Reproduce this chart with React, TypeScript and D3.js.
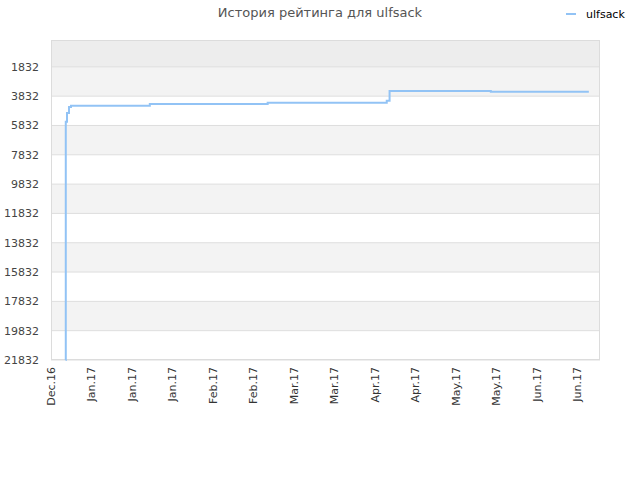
import * as d3 from 'd3'

// tick labels along the bottom (one every ~2 weeks)
const xTickLabels = ['Dec.16', 'Jan.17', 'Jan.17', 'Jan.17', 'Feb.17', 'Feb.17', 'Mar.17', 'Mar.17', 'Apr.17', 'Apr.17', 'May.17', 'May.17', 'Jun.17', 'Jun.17']
const yTicks = [1832, 3832, 5832, 7832, 9832, 11832, 13832, 15832, 17832, 19832, 21832]

// rating history, position measured in tick intervals from the first label
const historyPos = [0.36, 0.365, 0.395, 0.444, 0.494, 2.44, 5.35, 8.29, 8.36, 10.86, 13.28]
const historyRating = [21832, 5574, 4980, 4571, 4482, 4366, 4278, 4141, 3479, 3527, 3527]

const W = 640
const H = 480
const margin = { top: 40, right: 40, bottom: 120, left: 51 }
const font = '"DejaVu Sans", sans-serif'

export default function App() {
  const innerW = W - margin.left - margin.right
  const innerH = H - margin.top - margin.bottom

  const x = d3.scaleLinear().domain([0, innerW / 40.5]).range([0, innerW])
  const y = d3.scaleLinear().domain([0, 21832]).range([0, innerH])

  const points = historyPos.map((p, i) => [p, historyRating[i]] as [number, number])
  const line = d3
    .line<[number, number]>()
    .x((d) => x(d[0]))
    .y((d) => y(d[1]))
    .curve(d3.curveStepAfter)

  // alternating background bands between ticks
  const bands = yTicks.slice(0, -1).map((t, i) => ({ from: t, to: yTicks[i + 1], fill: i % 2 === 0 ? '#f3f3f3' : '#ffffff' }))

  return (
    <svg width={W} height={H} style={{ position: 'absolute', left: 0, top: 0 }}>
      <rect width={W} height={H} fill="#fff" />
      <text x={320} y={17} textAnchor="middle" fontFamily={font} fontSize={13} fill="#555">
        История рейтинга для ulfsack
      </text>
      <g transform="translate(566,14)">
        <line x1={0} x2={10} y1={0} y2={0} stroke="#92c3f5" strokeWidth={2} />
        <text x={20} y={4} fontFamily={font} fontSize={11} fill="#000">ulfsack</text>
      </g>
      <g transform={`translate(${margin.left},${margin.top})`}>
        <rect x={0} y={0} width={innerW} height={y(yTicks[0])} fill="#ededed" />
        {bands.map((b, i) => (
          <rect key={i} x={0} y={y(b.from)} width={innerW} height={y(b.to) - y(b.from)} fill={b.fill} />
        ))}
        {yTicks.map((t) => (
          <g key={t}>
            <line x1={0} x2={innerW} y1={y(t)} y2={y(t)} stroke="#dedede" />
            <text x={-12} y={y(t)} dy="0.35em" textAnchor="end" fontFamily={font} fontSize={11} fill="#444">
              {t}
            </text>
          </g>
        ))}
        <rect x={0.5} y={0.5} width={innerW - 1} height={innerH - 1} fill="none" stroke="#dcdcdc" />
        <path d={line(points) ?? ''} fill="none" stroke="#92c3f5" strokeWidth={2} />
        {xTickLabels.map((label, i) => (
          <text
            key={i}
            transform={`translate(${x(i)},${innerH + 7}) rotate(-90)`}
            dy="0.35em"
            textAnchor="end"
            fontFamily={font}
            fontSize={11}
            fill="#333"
          >
            {label}
          </text>
        ))}
      </g>
    </svg>
  )
}
